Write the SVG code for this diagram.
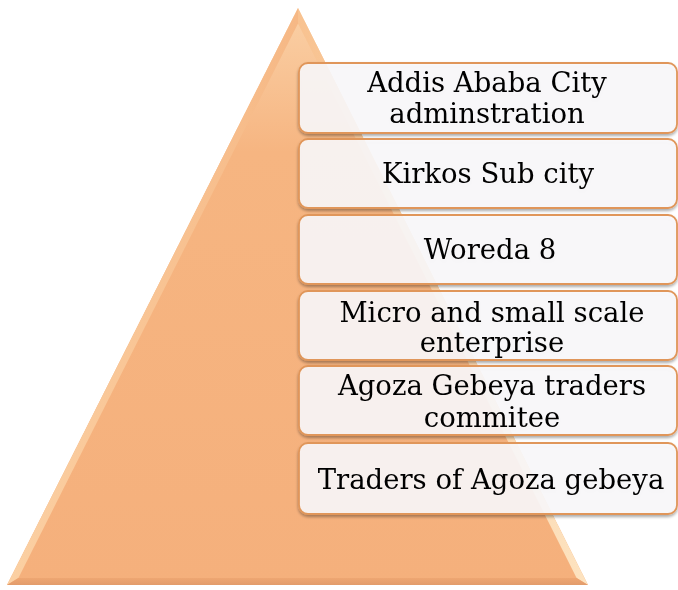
<svg xmlns="http://www.w3.org/2000/svg" width="678" height="590" viewBox="0 0 678 590">
  <defs>
    <linearGradient id="faceL" x1="0" y1="0" x2="1" y2="0">
      <stop offset="0" stop-color="#fbd0a3"/>
      <stop offset="1" stop-color="#f6b885"/>
    </linearGradient>
    <linearGradient id="faceR" x1="1" y1="0" x2="0" y2="0">
      <stop offset="0" stop-color="#fde3c0"/>
      <stop offset="1" stop-color="#f8c290"/>
    </linearGradient>
    <linearGradient id="faceB" x1="0" y1="0" x2="0" y2="1">
      <stop offset="0" stop-color="#eea672"/>
      <stop offset="1" stop-color="#e29c6b"/>
    </linearGradient>
    <linearGradient id="apex" x1="0" y1="0" x2="0" y2="1">
      <stop offset="0" stop-color="#fad0a6"/>
      <stop offset="0.25" stop-color="#f6b581"/>
      <stop offset="1" stop-color="#f5b07c"/>
    </linearGradient>
    <filter id="shadow" x="-5%" y="-10%" width="110%" height="130%">
      <feGaussianBlur in="SourceAlpha" stdDeviation="1.5"/>
      <feOffset dx="0" dy="1.5" result="b"/>
      <feComponentTransfer><feFuncA type="linear" slope="0.35"/></feComponentTransfer>
      <feMerge><feMergeNode/><feMergeNode in="SourceGraphic"/></feMerge>
    </filter>
  </defs>
  <style>
    .box { fill: #fcfafd; fill-opacity: 0.88; stroke: #e0965a; stroke-width: 1.8; }
    .lbl { font-family: "DejaVu Serif", "Liberation Serif", serif; font-size: 27.5px; fill: #000; text-anchor: middle; }
  </style>

  <!-- pyramid with bevelled edges -->
  <g id="pyramid">
    <polygon points="298,8 7,585 588,585" fill="url(#apex)"/>
    <polygon points="298,8 7,585 18.4,578 298,23.5" fill="url(#faceL)"/>
    <polygon points="298,8 588,585 576.6,578 298,23.5" fill="url(#faceR)"/>
    <polygon points="7,585 588,585 576.6,578 18.4,578" fill="url(#faceB)"/>
  </g>

  <!-- hierarchy levels -->
  <g id="level1" filter="url(#shadow)">
    <rect class="box" x="299" y="63" width="378" height="70" rx="9"/>
    <text class="lbl" x="487" y="92">Addis Ababa City</text>
    <text class="lbl" x="487" y="123">adminstration</text>
  </g>
  <g id="level2" filter="url(#shadow)">
    <rect class="box" x="299" y="139" width="378" height="69" rx="9"/>
    <text class="lbl" x="488" y="183">Kirkos Sub city</text>
  </g>
  <g id="level3" filter="url(#shadow)">
    <rect class="box" x="299" y="215" width="378" height="69" rx="9"/>
    <text class="lbl" x="490" y="259">Woreda 8</text>
  </g>
  <g id="level4" filter="url(#shadow)">
    <rect class="box" x="299" y="291" width="378" height="69" rx="9"/>
    <text class="lbl" x="492" y="322">Micro and small scale</text>
    <text class="lbl" x="492" y="352">enterprise</text>
  </g>
  <g id="level5" filter="url(#shadow)">
    <rect class="box" x="299" y="366" width="378" height="69" rx="9"/>
    <text class="lbl" x="492" y="395">Agoza Gebeya traders</text>
    <text class="lbl" x="492" y="427">commitee</text>
  </g>
  <g id="level6" filter="url(#shadow)">
    <rect class="box" x="299" y="443" width="378" height="71" rx="9"/>
    <text class="lbl" x="491" y="489">Traders of Agoza gebeya</text>
  </g>

  <g id="connectors"/>
</svg>
